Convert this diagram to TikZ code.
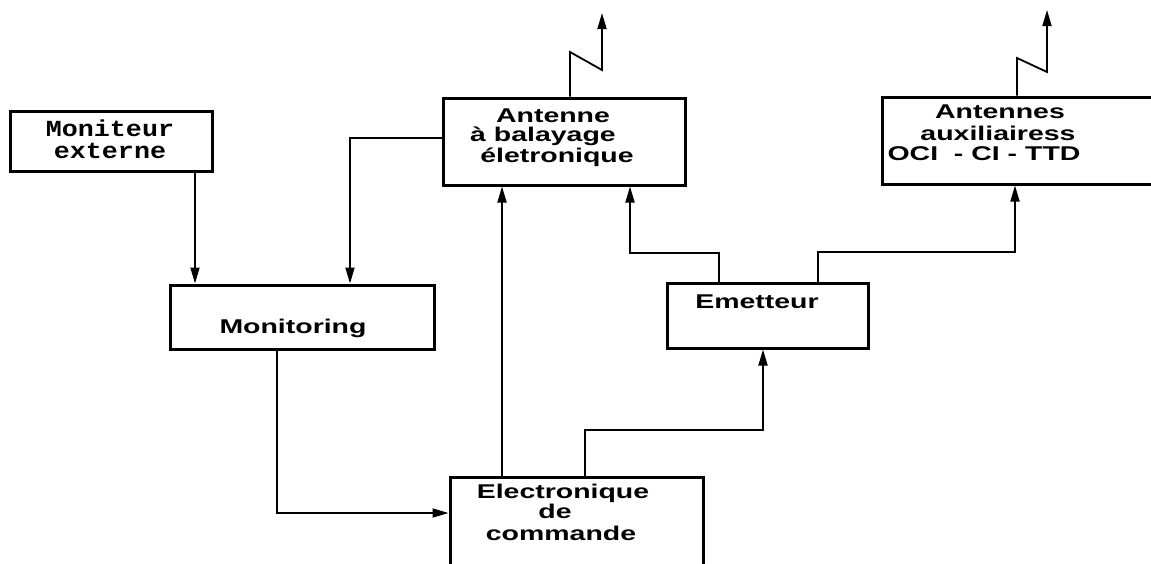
\documentclass[tikz,border=0pt]{standalone}
\usepackage{fontspec}
\usetikzlibrary{arrows.meta}
\newfontfamily\boxfont[FakeStretch=1.43]{Liberation Sans}
\newfontfamily\monofont[FakeStretch=1.16]{Liberation Mono}
\begin{document}
\begin{tikzpicture}[x=1pt,y=-1pt,
  box/.style={draw, line width=3pt, rectangle, inner sep=0pt},
  conn/.style={line width=1.8pt},
  arr/.style={conn, -{Triangle[length=16pt,width=9pt]}},
  lbl/.style={anchor=base, inner sep=0pt, font=\boxfont\bfseries\fontsize{19.9}{21}\selectfont},
  mlbl/.style={anchor=base, inner sep=0pt, font=\monofont\bfseries\fontsize{23}{25}\selectfont}]
\useasboundingbox (0,0) rectangle (1151,563);
% boxes
\node[box, minimum width=202pt, minimum height=60pt] (ext) at (111,141) {};
\node[box, minimum width=264pt, minimum height=64pt] (mon) at (302,317) {};
\node[box, minimum width=242pt, minimum height=87pt] (ant) at (564,141.5) {};
\node[box, minimum width=273pt, minimum height=87pt] (aux) at (1018.5,140.5) {};
\node[box, minimum width=201pt, minimum height=65pt] (emet) at (767.5,315.5) {};
\node[box, minimum width=253pt, minimum height=98pt] (elec) at (576.5,526) {};
% texts
\node[mlbl] (t1) at (110,136) {Moniteur};
\node[mlbl] (t2) at (110,158) {externe};
\node[lbl] (t3) at (293,333) {Monitoring};
\node[lbl] (t4) at (553,122) {Antenne};
\node[lbl] (t5) at (543,141) {à balayage};
\node[lbl] (t6) at (557,162) {életronique};
\node[lbl] (t7) at (1000,118) {Antennes};
\node[lbl] (t8) at (998,140) {auxiliairess};
\node[lbl] (t9) at (984,160) {OCI\ \ - CI - TTD};
\node[lbl] (t10) at (757,308) {Emetteur};
\node[lbl] (t11) at (563,498) {Electronique};
\node[lbl] (t12) at (555,518) {de};
\node[lbl] (t13) at (561,540) {commande};
% helper coordinates
\coordinate (cA) at (195,0);
\coordinate (cB) at (350,138);
\coordinate (cC) at (277,513);
\coordinate (cD) at (502,0);
\coordinate (cE) at (585,430);
\coordinate (cE2) at (763,0);
\coordinate (cF) at (719,253);
\coordinate (cF2) at (630,0);
\coordinate (cG) at (818,252);
\coordinate (cG2) at (1015,0);
\coordinate (a1) at (570,52);
\coordinate (a1b) at (602,70);
\coordinate (a1t) at (602,13);
\coordinate (a2) at (1017,58);
\coordinate (a2b) at (1047,72);
\coordinate (a2t) at (1047,10);
% connectors
\draw[arr] (ext.south -| cA) -- (mon.north -| cA);
\draw[arr] (ant.west |- cB) -| (mon.north -| cB);
\draw[arr] (mon.south -| cC) |- (elec.west |- cC);
\draw[arr] (elec.north -| cD) -- (ant.south -| cD);
\draw[arr] (elec.north -| cE) -- (cE) -| (emet.south -| cE2);
\draw[arr] (emet.north -| cF) -- (cF) -| (ant.south -| cF2);
\draw[arr] (emet.north -| cG) -- (cG) -| (aux.south -| cG2);
\draw[arr] (ant.north -| a1) -- (a1) -- (a1b) -- (a1t);
\draw[arr] (aux.north -| a2) -- (a2) -- (a2b) -- (a2t);
\end{tikzpicture}
\end{document}
